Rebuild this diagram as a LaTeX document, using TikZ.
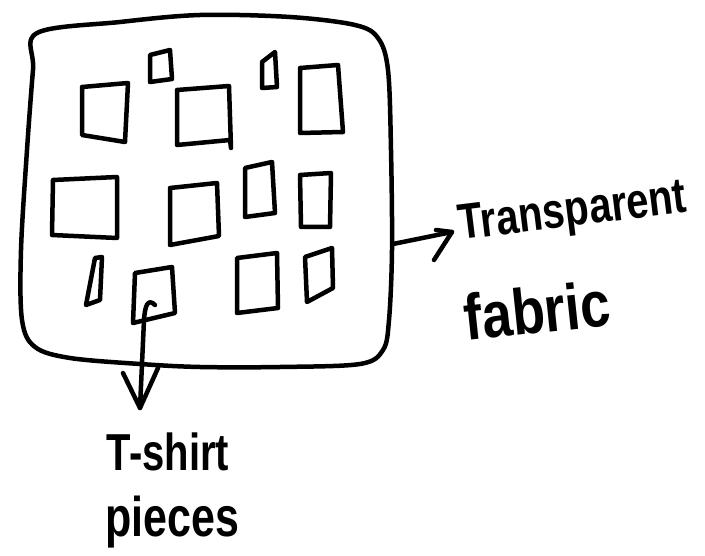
\documentclass[tikz,border=0pt]{standalone}
\usepackage{fontspec}
\setmainfont{Liberation Sans}
\begin{document}
\begin{tikzpicture}[x=1pt,y=-1pt,
  ink/.style={line width=4.5pt,line join=round,line cap=round,draw=black},
  hand/.style={inner sep=0pt,text=black,font=\bfseries}]
\useasboundingbox (0,0) rectangle (705,556);
% outer fabric frame
\draw[ink] plot[smooth cycle,tension=0.55] coordinates{
 (37,33) (120,22) (200,15) (290,17) (355,25) (378,38)
 (388,70) (391,150) (392,250) (389,320) (383,350)
 (360,364) (280,367) (200,367) (140,364) (70,358) (35,347)
 (22,320) (21,250) (27,150) (33,70)};
% T-shirt pieces
\draw[ink] (82,87) coordinate (a1) -- (128,83) -- (125,142) -- (82,135) -- cycle;
\draw[ink] (150,55) coordinate (b1) -- (170,50) -- (172,79) -- (150,82) -- cycle;
\draw[ink] (177,90) coordinate (c1) -- (229,86) -- (231,148) -- (230,140) -- (177,145) -- cycle;
\draw[ink] (262,62) coordinate (d1) -- (275,52) -- (277,87) -- (262,88) -- cycle;
\draw[ink] (300,68) coordinate (e1) -- (338,65) -- (343,132) -- (300,133) -- cycle;
\draw[ink] (53,180) coordinate (f1) -- (117,177) -- (117,238) -- (52,235) -- cycle;
\draw[ink] (170,188) coordinate (g1) -- (217,183) -- (219,236) -- (170,245) -- cycle;
\draw[ink] (245,168) coordinate (h1) -- (272,162) -- (275,213) -- (245,217) -- cycle;
\draw[ink] (300,175) coordinate (i1) -- (331,173) -- (330,227) -- (301,227) -- cycle;
\draw[ink] (95,258) coordinate (j1) -- (102,257) -- (100,300) -- (86,305) -- cycle;
\draw[ink] (135,273) coordinate (k1) -- (172,267) -- (175,313) -- (133,323) -- cycle;
\draw[ink] (237,258) coordinate (l1) -- (277,253) -- (278,308) -- (237,313) -- cycle;
\draw[ink] (305,257) coordinate (m1) -- (332,248) -- (333,288) -- (307,302) -- cycle;
% labels
\node[hand,rotate=7] (fab1) at (573,214) {\fontsize{40}{40}\selectfont\scalebox{1}[1.25]{Transparent}};
\node[hand,rotate=6] (fab2) at (537,310) {\fontsize{54}{54}\selectfont\scalebox{1}[1.2]{fabric}};
\node[hand] (ts1) at (168,452) {\fontsize{40}{40}\selectfont\scalebox{1}[1.3]{T-shirt}};
\node[hand] (ts2) at (172,522) {\fontsize{43}{43}\selectfont\scalebox{1}[1.3]{pieces}};
% connectors
\coordinate (kin) at (155,305);
\coordinate (dtip) at (140,408);
\draw[ink] (kin) .. controls (148,298) and (145,305) .. (144,320) -- (dtip);
\draw[ink] (123,373) -- (dtip) -- (158,368);
\coordinate (rstart) at (393,244);
\coordinate (rtip) at (452,232);
\draw[ink] (rstart) -- (rtip);
\draw[ink] (436,230) -- (rtip) -- (434,260);
\end{tikzpicture}
\end{document}
